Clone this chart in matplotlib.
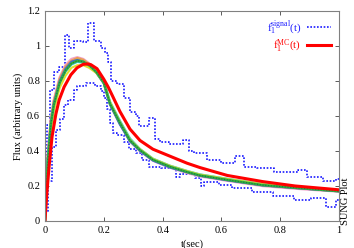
import matplotlib
matplotlib.use("Agg")
import matplotlib.pyplot as plt

# signal histograms (upper / lower envelopes), step edges + values
up_t = [0.0, 0.008, 0.018, 0.03, 0.048, 0.068, 0.082, 0.1, 0.13, 0.145, 0.167, 0.19,
        0.205, 0.215, 0.225, 0.245, 0.27, 0.29, 0.31, 0.32, 0.355, 0.375, 0.39, 0.42,
        0.47, 0.49, 0.505, 0.55, 0.6, 0.645, 0.675, 0.72, 0.78, 0.86, 0.89, 0.945, 0.99, 1.0]
up_f = [0.25, 0.55, 0.75, 0.85, 0.88, 1.06, 0.99, 1.03, 1.02, 1.13, 1.03, 0.99,
        0.96, 0.91, 0.80, 0.78, 0.70, 0.62, 0.60, 0.54, 0.59, 0.47, 0.45, 0.44,
        0.46, 0.40, 0.39, 0.35, 0.33, 0.37, 0.31, 0.30, 0.28, 0.29, 0.25, 0.23, 0.24, 0.24]

lo_t = [0.0, 0.012, 0.024, 0.038, 0.05, 0.065, 0.08, 0.1, 0.11, 0.14, 0.17, 0.19,
        0.2, 0.21, 0.22, 0.23, 0.245, 0.27, 0.285, 0.31, 0.33, 0.355, 0.395, 0.445,
        0.46, 0.51, 0.53, 0.54, 0.59, 0.635, 0.705, 0.775, 0.845, 0.905, 0.955, 0.99, 1.0]
lo_f = [0.05, 0.23, 0.42, 0.52, 0.58, 0.66, 0.69, 0.75, 0.77, 0.79, 0.77, 0.74,
        0.70, 0.64, 0.56, 0.50, 0.49, 0.45, 0.41, 0.39, 0.35, 0.31, 0.30, 0.25,
        0.27, 0.245, 0.20, 0.22, 0.205, 0.19, 0.165, 0.14, 0.12, 0.13, 0.08, 0.12, 0.12]

# MC fit (red)
red_t = [0, 0.007, 0.014, 0.024, 0.037, 0.048, 0.065, 0.088, 0.109, 0.13, 0.145, 0.156,
         0.177, 0.2, 0.215, 0.228, 0.255, 0.289, 0.323, 0.367, 0.425, 0.483, 0.527,
         0.62, 0.74, 0.85, 1.0]
red_f = [0, 0.17, 0.31, 0.48, 0.61, 0.69, 0.765, 0.835, 0.875, 0.895, 0.897, 0.893,
         0.87, 0.81, 0.765, 0.72, 0.625, 0.525, 0.46, 0.41, 0.37, 0.33, 0.305,
         0.26, 0.225, 0.20, 0.178]

# MC ensemble curves
mc_t = [0, 0.01, 0.02, 0.03, 0.05, 0.07, 0.09, 0.11, 0.13, 0.15, 0.175, 0.2,
        0.221, 0.255, 0.289, 0.323, 0.367, 0.425, 0.483, 0.527, 0.62, 0.74, 0.85, 1.0]
mc_pink = [0, 0.38, 0.58, 0.69, 0.82, 0.89, 0.925, 0.935, 0.925, 0.90, 0.855, 0.79,
           0.67, 0.555, 0.455, 0.40, 0.345, 0.305, 0.275, 0.255, 0.23, 0.20, 0.185, 0.168]
mc_orange = [0, 0.37, 0.57, 0.68, 0.81, 0.88, 0.915, 0.93, 0.92, 0.895, 0.85, 0.79,
             0.67, 0.555, 0.46, 0.405, 0.35, 0.31, 0.28, 0.26, 0.235, 0.205, 0.19, 0.17]
mc_blue = [0, 0.36, 0.56, 0.67, 0.80, 0.87, 0.91, 0.92, 0.91, 0.885, 0.845, 0.785,
           0.665, 0.55, 0.455, 0.40, 0.345, 0.305, 0.278, 0.258, 0.232, 0.203, 0.188, 0.169]
mc_cyan = [0, 0.34, 0.54, 0.65, 0.78, 0.855, 0.895, 0.91, 0.905, 0.885, 0.85, 0.795,
           0.68, 0.57, 0.47, 0.41, 0.355, 0.315, 0.285, 0.265, 0.24, 0.21, 0.193, 0.172]
mc_yellow = [0, 0.32, 0.52, 0.63, 0.76, 0.83, 0.875, 0.89, 0.89, 0.875, 0.845, 0.79,
             0.68, 0.565, 0.465, 0.41, 0.355, 0.315, 0.285, 0.265, 0.24, 0.21, 0.193, 0.173]
mc_green = [0, 0.35, 0.55, 0.66, 0.79, 0.86, 0.90, 0.915, 0.91, 0.89, 0.85, 0.79,
            0.67, 0.56, 0.46, 0.405, 0.35, 0.31, 0.28, 0.26, 0.235, 0.205, 0.19, 0.17]

plt.rcParams['font.family'] = ['Liberation Serif', 'DejaVu Serif']
plt.rcParams['mathtext.fontset'] = 'stix'

fig = plt.figure(figsize=(3.54, 2.48), dpi=100)
ax = fig.add_axes([0.127, 0.109, 0.831, 0.847])

ax.step(up_t, up_f, where='post', color='#1a1aff', lw=1.2, ls=(0, (1, 1)),
        label=r'$\mathregular{f_1^{signal}(t)}$')
ax.step(lo_t, lo_f, where='post', color='#1a1aff', lw=1.2, ls=(0, (1, 1)))

ax.plot(mc_t, mc_pink, color='#f2a0c8', lw=1.8)
ax.plot(mc_t, mc_orange, color='#e8a050', lw=1.8)
ax.plot(mc_t, mc_blue, color='#4060e0', lw=1.5)
ax.plot(mc_t, mc_cyan, color='#30c8c8', lw=1.8)
ax.plot(mc_t, mc_yellow, color='#e0e030', lw=1.5)
ax.plot(mc_t, mc_green, color='#30b040', lw=1.8)
ax.plot(mc_t, mc_green, color='#207040', lw=0.8, ls=(0, (1, 1.5)))

ax.plot(red_t, red_f, color='#ff0000', lw=2.2, label=r'$\mathregular{f_1^{MC}(t)}$')

ax.set_xlim(0, 1)
ax.set_ylim(0, 1.2)
ax.set_xticks([0, 0.2, 0.4, 0.6, 0.8, 1])
ax.set_xticklabels(['0', '0.2', '0.4', '0.6', '0.8', '1'])
ax.set_yticks([0, 0.2, 0.4, 0.6, 0.8, 1, 1.2])
ax.set_yticklabels(['0', '0.2', '0.4', '0.6', '0.8', '1', '1.2'])
ax.tick_params(direction='in', top=True, right=True, labelsize=7.5, length=3,
               width=0.6, colors='#404040', labelcolor='black')
for s in ax.spines.values():
    s.set_color('#808080')
    s.set_linewidth(0.8)

ax.set_xlabel('t(sec)', fontsize=7.5, labelpad=3)
ax.set_ylabel('Flux (arbitrary units)', fontsize=7.5, labelpad=3)

leg = ax.legend(loc='upper right', frameon=False, markerfirst=False, fontsize=8,
                handlelength=2.2, labelcolor='linecolor', borderaxespad=0.3,
                labelspacing=0.02, handletextpad=0.5)

fig.text(0.977, 0.19, 'SUNG Plot', rotation=90, fontsize=7.5, ha='center', va='center')

fig.savefig('out.png', dpi=100)
